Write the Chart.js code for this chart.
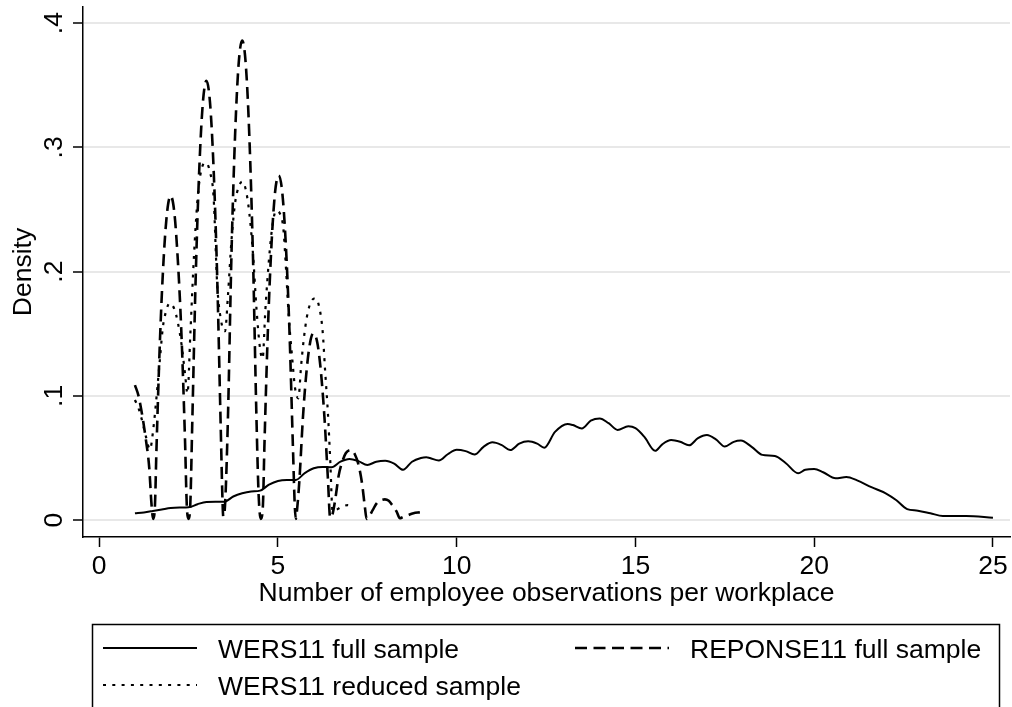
<!DOCTYPE html>
<html><head><meta charset="utf-8">
<script src="https://cdn.jsdelivr.net/npm/chart.js@4.4.1/dist/chart.umd.min.js"></script>
<style>html,body{margin:0;padding:0;background:#fff;}#wrap{width:1012px;height:707px;position:relative;}canvas{display:block;}</style>
</head><body><div id="wrap"><canvas id="c" width="1012" height="707"></canvas></div>
<script>
const FONT = "'Liberation Sans', Arial, sans-serif";
const FSIZE = 26.5;
const xTickValues = [0, 5, 10, 15, 20, 25];
const yTickValues = [0, 0.1, 0.2, 0.3, 0.4];
const yTickLabels = ['0', '.1', '.2', '.3', '.4'];
const xTitle = 'Number of employee observations per workplace';
const yTitle = 'Density';
const seriesNames = ['WERS11 full sample', 'REPONSE11 full sample', 'WERS11 reduced sample'];

// WERS11 full sample (solid)
const wersFullX = [1.0,1.25,1.5,1.75,2.0,2.25,2.5,2.75,3.0,3.25,3.5,3.75,4.0,4.25,4.5,4.75,5.0,5.25,5.5,5.75,6.0,6.25,6.5,6.75,7.0,7.25,7.5,7.75,8.0,8.25,8.5,8.75,9.0,9.15,9.25,9.5,9.75,10.0,10.25,10.5,10.75,11.0,11.25,11.5,11.75,12.0,12.25,12.45,12.75,13.1,13.25,13.5,13.75,14.0,14.25,14.5,14.8,15.0,15.25,15.55,15.75,16.0,16.25,16.5,16.75,17.0,17.25,17.5,17.75,17.95,18.25,18.55,18.9,19.2,19.55,19.75,20.0,20.25,20.6,20.9,21.2,21.6,22.0,22.3,22.6,22.9,23.25,23.6,24.25,25.0];
const wersFullY = [0.0055,0.0062,0.0073,0.0085,0.0097,0.0101,0.0103,0.0128,0.0146,0.0148,0.0148,0.0190,0.0216,0.0230,0.0237,0.0285,0.0315,0.0323,0.0323,0.0378,0.0417,0.0428,0.0425,0.0470,0.0492,0.0475,0.0444,0.0470,0.0478,0.0455,0.0405,0.0470,0.0500,0.0506,0.0500,0.0480,0.0530,0.0566,0.0555,0.0528,0.0590,0.0626,0.0605,0.0564,0.0615,0.0634,0.0615,0.0583,0.0710,0.0774,0.0765,0.0737,0.0800,0.0818,0.0780,0.0726,0.0755,0.0740,0.0670,0.0558,0.0610,0.0644,0.0630,0.0602,0.0660,0.0685,0.0650,0.0592,0.0630,0.0640,0.0590,0.0525,0.0516,0.0460,0.0377,0.0405,0.0411,0.0385,0.0336,0.0347,0.0320,0.0265,0.0216,0.0160,0.0089,0.0076,0.0055,0.0033,0.0033,0.0019];

// REPONSE11 full sample (dashed)
const reponseX = [1.0,1.1,1.2,1.3,1.4,1.46,1.51,1.56,1.6,1.7,1.8,1.9,2.0,2.1,2.2,2.3,2.4,2.45,2.5,2.55,2.6,2.7,2.8,2.9,3.0,3.1,3.2,3.3,3.4,3.45,3.47,3.52,3.6,3.7,3.8,3.9,4.0,4.1,4.2,4.3,4.4,4.46,4.52,4.58,4.62,4.72,4.82,4.92,5.02,5.12,5.22,5.32,5.42,5.47,5.5,5.54,5.6,5.7,5.8,5.9,5.99,6.1,6.2,6.3,6.4,6.46,6.52,6.6,6.7,6.8,6.9,7.05,7.15,7.25,7.35,7.43,7.48,7.55,7.65,7.76,7.88,7.99,8.1,8.2,8.32,8.41,8.5,8.6,8.79,8.97];
const reponseY = [0.1087,0.100,0.085,0.066,0.042,0.014,0.001,0.012,0.055,0.145,0.209,0.248,0.261,0.248,0.209,0.150,0.065,0.012,0.001,0.014,0.074,0.196,0.283,0.336,0.3535,0.336,0.283,0.196,0.074,0.015,0.003,0.012,0.081,0.214,0.309,0.367,0.386,0.367,0.309,0.214,0.081,0.020,0.001,0.012,0.058,0.154,0.222,0.264,0.2773,0.264,0.222,0.154,0.058,0.012,0.001,0.010,0.032,0.083,0.120,0.143,0.1504,0.143,0.120,0.083,0.032,0.002,0.004,0.016,0.036,0.047,0.054,0.0564,0.053,0.045,0.030,0.011,0.001,0.003,0.008,0.0135,0.016,0.0167,0.0155,0.012,0.0068,0.0015,0.0025,0.0035,0.0055,0.0063];

// WERS11 reduced sample (dotted)
const reducedX = [1.0,1.1,1.2,1.3,1.42,1.52,1.6,1.7,1.78,1.86,1.97,2.1,2.2,2.3,2.4,2.47,2.55,2.65,2.75,2.85,2.98,3.1,3.2,3.3,3.4,3.52,3.6,3.7,3.8,3.9,4.0,4.1,4.2,4.3,4.4,4.5,4.57,4.65,4.75,4.85,4.95,5.05,5.15,5.22,5.3,5.4,5.48,5.57,5.65,5.72,5.8,5.9,6.04,6.15,6.25,6.32,6.4,6.46,6.53,6.62,6.8,6.95,7.05];
const reducedY = [0.0967,0.090,0.080,0.068,0.057,0.075,0.098,0.130,0.155,0.167,0.1746,0.170,0.159,0.142,0.118,0.102,0.150,0.212,0.258,0.281,0.2878,0.280,0.260,0.190,0.162,0.152,0.180,0.225,0.255,0.268,0.2725,0.266,0.247,0.215,0.170,0.138,0.130,0.170,0.210,0.238,0.249,0.247,0.235,0.205,0.165,0.130,0.106,0.098,0.125,0.145,0.162,0.174,0.1786,0.172,0.152,0.120,0.085,0.050,0.007,0.008,0.011,0.012,0.011];

const seriesDash = [[], [12, 6.5], [3, 6.3]];
const seriesWidth = [2, 2.6, 2.2];
const pts = (xs, ys) => xs.map((x, i) => ({x: x, y: ys[i]}));

const overlay = {
  id: 'overlay',
  afterDraw(chart) {
    const c = chart.ctx, ys = chart.scales.y;
    c.save();
    c.fillStyle = '#000';
    c.font = FSIZE + 'px ' + FONT;
    c.textAlign = 'center';
    c.textBaseline = 'alphabetic';
    const lx = ys.right - 21;
    yTickValues.forEach((v, i) => {
      const py = ys.getPixelForValue(v);
      c.save(); c.translate(lx, py); c.rotate(-Math.PI / 2);
      c.fillText(yTickLabels[i], 0, 0);
      c.restore();
    });
    // legend box
    c.setLineDash([]);
    c.strokeStyle = '#000';
    c.lineWidth = 1.5;
    c.strokeRect(92.5, 624.5, 907, 120);
    const entries = [
      {i: 0, x: 103, y: 648},
      {i: 1, x: 575, y: 648},
      {i: 2, x: 103, y: 685}
    ];
    c.textAlign = 'left';
    entries.forEach(e => {
      c.setLineDash(seriesDash[e.i]);
      c.lineWidth = seriesWidth[e.i];
      c.beginPath(); c.moveTo(e.x, e.y); c.lineTo(e.x + 94, e.y); c.stroke();
      c.setLineDash([]);
      c.fillText(seriesNames[e.i], e.x + 115, e.y + 10);
    });
    c.restore();
  }
};

const mk = (i, xs, ys) => ({
  label: seriesNames[i], data: pts(xs, ys), borderColor: '#000', backgroundColor: '#000',
  borderWidth: seriesWidth[i], borderDash: seriesDash[i], pointRadius: 0, fill: false,
  cubicInterpolationMode: 'monotone'
});

new Chart(document.getElementById('c').getContext('2d'), {
  type: 'line',
  data: { datasets: [mk(0, wersFullX, wersFullY), mk(1, reponseX, reponseY), mk(2, reducedX, reducedY)] },
  options: {
    responsive: false, animation: false, devicePixelRatio: 1,
    layout: { padding: { top: 7, right: 2, bottom: 90, left: 0 } },
    plugins: { legend: { display: false }, tooltip: { enabled: false } },
    scales: {
      x: {
        type: 'linear', min: -0.453, max: 25.477,
        afterBuildTicks: s => { s.ticks = xTickValues.map(v => ({value: v})); },
        afterFit: s => { s.height = 80; },
        grid: { drawOnChartArea: false, drawTicks: true, tickLength: 10, tickColor: '#000', tickWidth: 1.5 },
        border: { display: true, color: '#000', width: 1.5 },
        ticks: { color: '#000', font: { family: FONT, size: FSIZE }, padding: 4, maxRotation: 0, autoSkip: false, callback: v => String(v) },
        title: { display: true, text: xTitle, color: '#000', font: { family: FONT, size: FSIZE }, padding: { top: 0, bottom: 7 } }
      },
      y: {
        type: 'linear', min: -0.0136, max: 0.413,
        afterBuildTicks: s => { s.ticks = yTickValues.map(v => ({value: v})); },
        afterFit: s => { s.width = 83; },
        grid: { color: '#e8e8e8', lineWidth: 2, drawTicks: true, tickLength: 10, tickColor: '#000', tickWidth: 1.5 },
        border: { display: true, color: '#000', width: 1.5 },
        ticks: { display: false },
        title: { display: true, text: yTitle, color: '#000', font: { family: FONT, size: FSIZE }, padding: { top: 8, bottom: 0 } }
      }
    }
  },
  plugins: [overlay]
});
</script></body></html>
